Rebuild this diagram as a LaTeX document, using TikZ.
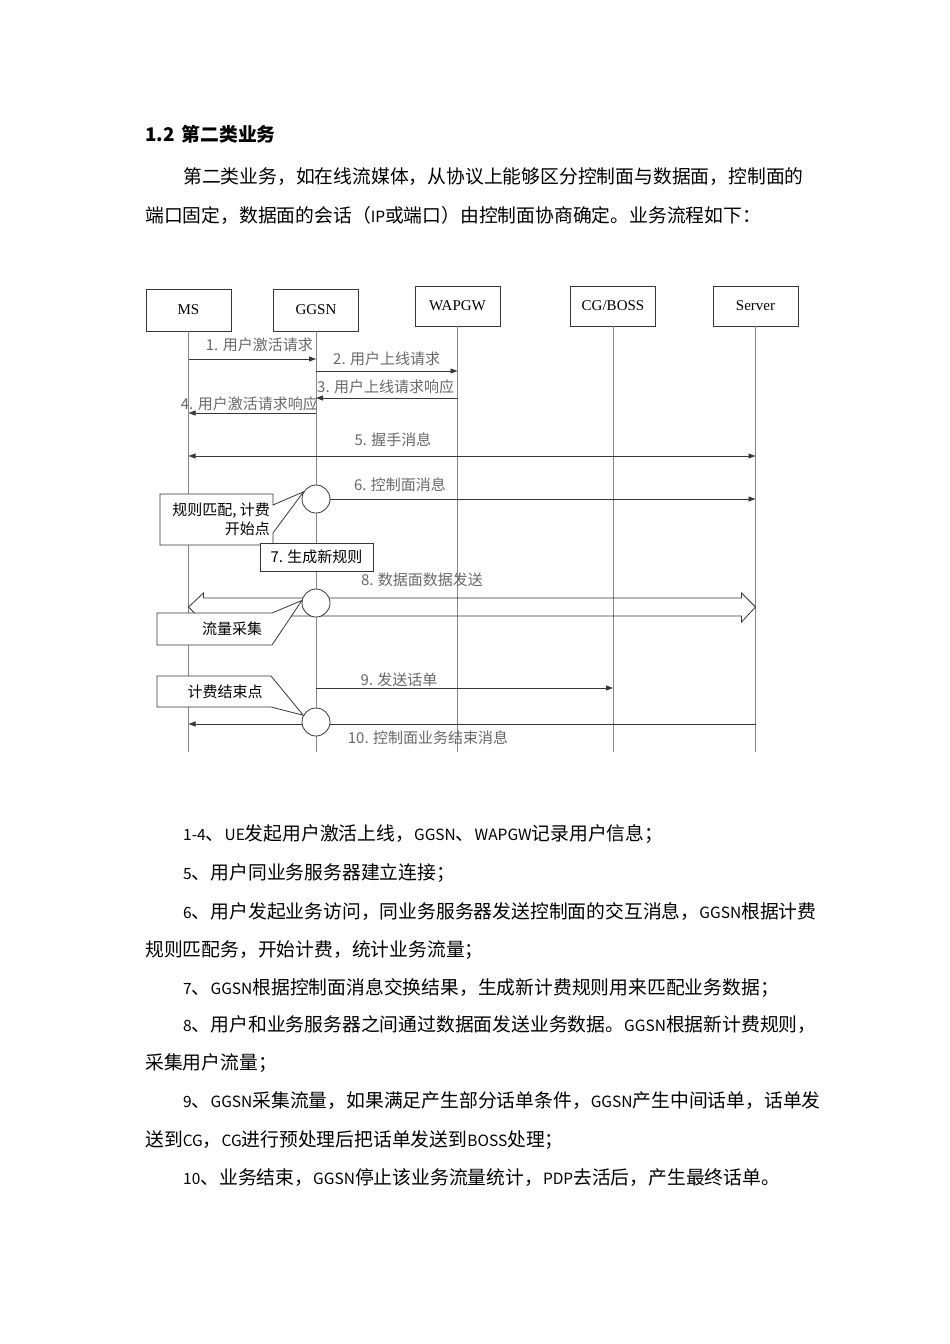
\documentclass[tikz,border=0pt]{standalone}
\usepackage{fontspec}
\setmainfont{Liberation Serif}
\newfontfamily\cjk{Noto Sans CJK SC}
\newfontfamily\boxfont{Liberation Serif}
\usepackage{tikz}
\usetikzlibrary{arrows.meta, positioning, calc}
\usepackage{xcolor}
\definecolor{lifegray}{RGB}{135,135,135}
\definecolor{labelgray}{RGB}{105,105,105}
\definecolor{linegray}{RGB}{55,55,55}

\newcommand{\bodysize}{\cjk\fontsize{18.8}{22}\selectfont}
\newcommand{\labelsize}{\cjk\fontsize{15}{17}\selectfont}
\newcommand{\notesize}{\cjk\fontsize{15}{18}\selectfont}
% narrower latin inside the chinese text
\newcommand{\lat}[1]{{\fontsize{15.5}{22}\selectfont #1}}

\tikzset{
  entity/.style={draw=linegray, minimum width=85, minimum height=42, inner sep=0,
    font=\boxfont\fontsize{15}{17}\selectfont},
  life/.style={draw=lifegray, line width=0.8},
  msg/.style={draw=linegray, line width=0.8, -{Triangle[length=7pt,width=5pt]}},
  msglabel/.style={text=labelgray, font=\labelsize, inner sep=0},
  spot/.style={circle, draw=linegray, line width=0.8, fill=white, minimum size=28, inner sep=0},
  callout/.style={draw=linegray, line width=0.8, fill=white},
  notetext/.style={font=\notesize, inner sep=0, align=right},
  bodyline/.style={anchor=west, inner sep=0, font=\bodysize},
}

\begin{document}
\begin{tikzpicture}[x=1pt, y=-1pt]
  \useasboundingbox[fill=white] (0,0) rectangle (950,1344);

  % Heading and paragraph
  \node[bodyline, font=\cjk\bfseries\fontsize{18.8}{22}\selectfont] (title) at (145,134) {1.2\hspace{7pt}第二类业务};
  \node[bodyline] (intro1) at (183,177) {第二类业务，如在线流媒体，从协议上能够区分控制面与数据面，控制面的};
  \node[bodyline] (intro2) at (145,215) {端口固定，数据面的会话（\lat{IP}或端口）由控制面协商确定。业务流程如下：};

  % Entities and lifelines
  \node[entity] (ms) at (188.5,310) {MS};
  \node[entity] (ggsn) at (316,310) {GGSN};
  \node[entity, minimum height=40] (wap) at (457.5,306) {WAPGW};
  \node[entity, minimum height=40] (cg) at (613,306) {CG/BOSS};
  \node[entity, minimum height=40] (srv) at (755.5,306) {Server};
  \foreach \n in {ms,ggsn,wap,cg,srv}
    \draw[life] (\n.south) -- (\n.south |- 0,752);

  % Messages 1-5
  \draw[msg] (ms |- 0,359) -- (ggsn |- 0,359);
  \draw[msg] (ggsn |- 0,371) -- (wap |- 0,371);
  \draw[msg] (wap |- 0,398) -- (ggsn |- 0,398);
  \draw[msg] (ggsn |- 0,413) -- (ms |- 0,413);
  \draw[msg, {Triangle[length=7pt,width=5pt]}-{Triangle[length=7pt,width=5pt]}] (ms |- 0,456) -- (srv |- 0,456);

  % Data plane (block arrow)
  \coordinate (dataL) at (ms |- 0,607);
  \coordinate (dataR) at (srv |- 0,607);
  \draw[draw=linegray, line width=0.8] (dataL) -- ($(dataL)+(15,-14)$) -- ($(dataL)+(15,-9)$)
    -- ($(dataR)+(-14,-9)$) -- ($(dataR)+(-14,-14)$) -- (dataR) -- ($(dataR)+(-14,15)$)
    -- ($(dataR)+(-14,9)$) -- ($(dataL)+(15,9)$) -- ($(dataL)+(15,15)$) -- cycle;

  % Messages 9 and 10
  \draw[msg] (ggsn |- 0,688) -- (cg |- 0,688);
  \draw[msg] (srv |- 0,724) -- (ms |- 0,724);

  % GGSN check points
  \node[spot] (hitA) at (ggsn |- 0,499) {};
  \node[spot] (hitB) at (ggsn |- 0,603) {};
  \node[spot] (hitC) at (ggsn |- 0,722) {};
  \draw[msg] (hitA.east) -- (srv |- hitA.east);

  % Callouts
  \path[callout] (160,494) -- (273,494) -- (273,505) -- (hitA.150) -- (273,533) -- (273,545) -- (160,545) -- cycle;
  \node[notetext, anchor=east] (ruleNote) at (270,519) {规则匹配, 计费\\[1pt]开始点};
  \node[callout, minimum width=113, minimum height=28, inner sep=0, font=\notesize] (newRule) at (316.5,557) {7. 生成新规则};
  \path[callout] (157,613) -- (272,613) -- (hitB.170) -- (272,645) -- (157,645) -- cycle;
  \node[notetext] (flowNote) at (232,629) {流量采集};
  \path[callout] (157,676) -- (271,676) -- (hitC.152) -- (271,707) -- (157,707) -- cycle;
  \node[notetext] (endNote) at (225,692) {计费结束点};

  % Message labels
  \node[msglabel, anchor=east] (lab1) at (313,345) {1. 用户激活请求};
  \node[msglabel, anchor=west] (lab2) at (333,359) {2. 用户上线请求};
  \node[msglabel, anchor=west] (lab3) at (317,387) {3. 用户上线请求响应};
  \node[msglabel, anchor=east] (lab4) at (318,404) {4. 用户激活请求响应};
  \node[msglabel] (lab5) at (393,440) {5. 握手消息};
  \node[msglabel] (lab6) at (400,485) {6. 控制面消息};
  \node[msglabel] (lab8) at (422,580) {8. 数据面数据发送};
  \node[msglabel] (lab9) at (399,680) {9. 发送话单};
  \node[msglabel] (lab10) at (428,738) {10. 控制面业务结束消息};

  % Step descriptions
  \node[bodyline] (step1) at (183,834) {\lat{1-4}、\lat{UE}发起用户激活上线，\lat{GGSN}、\lat{WAPGW}记录用户信息；};
  \node[bodyline] (step5) at (183,873) {\lat{5}、用户同业务服务器建立连接；};
  \node[bodyline] (step6a) at (183,912) {\lat{6}、用户发起业务访问，同业务服务器发送控制面的交互消息，\lat{GGSN}根据计费};
  \node[bodyline] (step6b) at (145,950) {规则匹配务，开始计费，统计业务流量；};
  \node[bodyline] (step7) at (183,988) {\lat{7}、\lat{GGSN}根据控制面消息交换结果，生成新计费规则用来匹配业务数据；};
  \node[bodyline] (step8a) at (183,1025) {\lat{8}、用户和业务服务器之间通过数据面发送业务数据。\lat{GGSN}根据新计费规则，};
  \node[bodyline] (step8b) at (145,1063) {采集用户流量；};
  \node[bodyline] (step9a) at (183,1101) {\lat{9}、\lat{GGSN}采集流量，如果满足产生部分话单条件，\lat{GGSN}产生中间话单，话单发};
  \node[bodyline] (step9b) at (145,1140) {送到\lat{CG}，\lat{CG}进行预处理后把话单发送到\lat{BOSS}处理；};
  \node[bodyline] (step10) at (183,1178) {\lat{10}、业务结束，\lat{GGSN}停止该业务流量统计，\lat{PDP}去活后，产生最终话单。};
\end{tikzpicture}
\end{document}
